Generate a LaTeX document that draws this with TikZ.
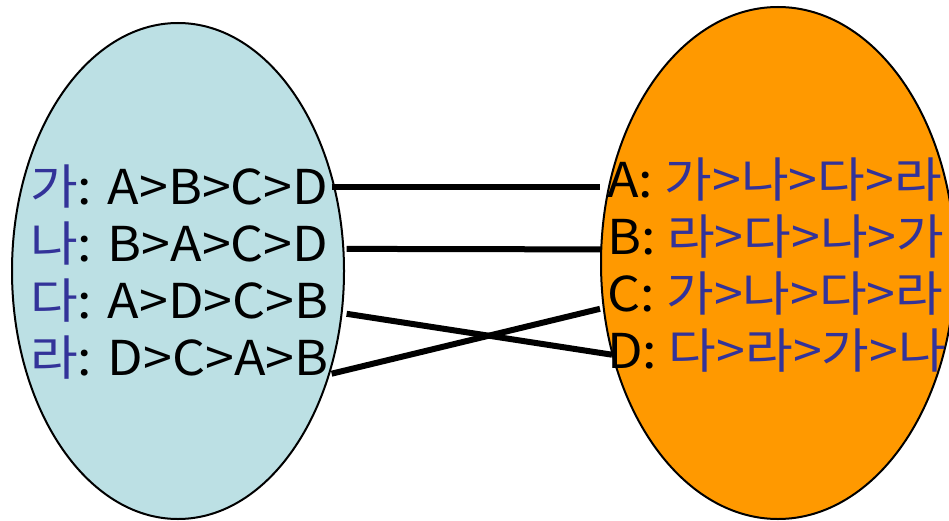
\documentclass[tikz,border=0pt]{standalone}
\usepackage{fontspec}
\setmainfont[FakeStretch=1.08]{Noto Sans CJK KR}
\usetikzlibrary{positioning,shapes.geometric}
\definecolor{paleblue}{HTML}{BCE0E4}
\definecolor{orangefill}{HTML}{FF9900}
\definecolor{hanblue}{HTML}{333399}
\newcommand{\hn}[1]{\textcolor{hanblue}{#1}}
\tikzset{
  setshape/.style={draw, ellipse, line width=2pt},
  rankline/.style={anchor=west, inner sep=0pt, text height=35pt, text depth=0pt},
  pairline/.style={line width=6pt}
}

\begin{document}
\begin{tikzpicture}[x=1pt, y=1pt, node distance=21.5pt, font=\fontsize{48}{48}\selectfont]
        \useasboundingbox (0,0) rectangle (949,520);
        \clip (0,0) rectangle (949,520);
        \node[setshape, fill=paleblue, minimum width=332pt, minimum height=496pt] (leftset) at (178,249) {};
        \node[setshape, fill=orangefill, minimum width=354pt, minimum height=512pt] (rightset) at (778,257) {};

        \node[rankline] (ga) at (30,333) {\hn{가}: A>B>C>D};
        \node[rankline, below=of ga.south west, anchor=north west] (na) {\hn{나}: B>A>C>D};
        \node[rankline, below=of na.south west, anchor=north west] (da) {\hn{다}: A>D>C>B};
        \node[rankline, below=of da.south west, anchor=north west] (ra) {\hn{라}: D>C>A>B};

        \node[rankline] (A) at (607,339.5) {A: \hn{가>나>다>라}};
        \node[rankline, below=of A.south west, anchor=north west] (B) {B: \hn{라>다>나>가}};
        \node[rankline, below=of B.south west, anchor=north west] (C) {C: \hn{가>나>다>라}};
        \node[rankline, below=of C.south west, anchor=north west] (D) {D: \hn{다>라>가>나}};

        \draw[pairline] ([xshift=3pt]ga.east) -- ([xshift=-7pt]ga.east -| A.west);
        \draw[pairline] ([shift={(18,-5)}]na.east) -- ([shift={(-6,-12)}]B.west);
        \draw[pairline] ([shift={(18,-13)}]da.east) -- ([shift={(5,-3.5)}]D.west);
        \draw[pairline] ([shift={(3,-16)}]ra.east) -- ([shift={(-7,-14.5)}]C.west);
\end{tikzpicture}
\end{document}
